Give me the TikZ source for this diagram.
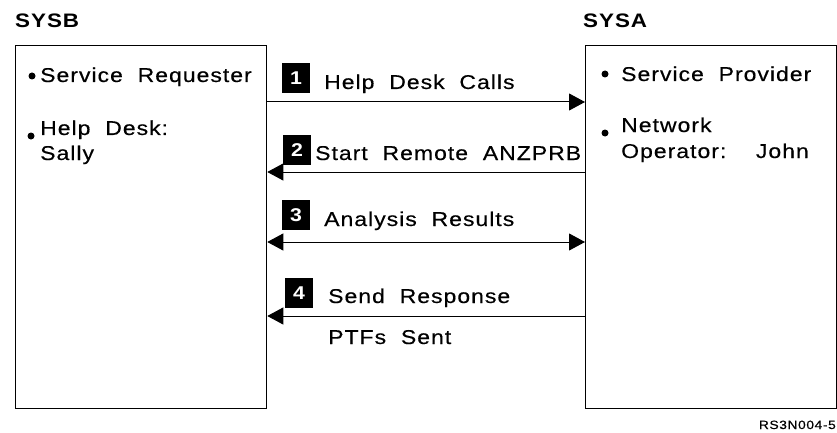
\documentclass[tikz,border=0pt]{standalone}
\usepackage{fontspec}
\setmainfont{Liberation Sans}[FakeStretch=1.15,LetterSpace=5,WordSpace=2,UprightFeatures={FakeBold=0.4}]
\usetikzlibrary{arrows.meta, positioning}

\begin{document}
\begin{tikzpicture}[x=1pt, y=-1pt, >={Triangle[length=16pt,width=17pt]},
        sysbox/.style={draw, line width=1.3pt, minimum width=251pt, minimum height=363pt, anchor=north west, inner sep=0pt},
        title/.style={anchor=base west, inner sep=0pt, font=\bfseries\fontsize{19.5}{20}\selectfont},
        txt/.style={anchor=base west, inner sep=0pt, font=\fontsize{20}{25}\selectfont},
        num/.style={fill=black, text=white, inner sep=0pt, minimum width=28pt, minimum height=30pt, font=\bfseries\fontsize{18.5}{19}\selectfont},
        dot/.style={circle, fill=black, inner sep=0pt, minimum size=7pt},
        msg/.style={line width=1pt}]
        \useasboundingbox (0,0) rectangle (837,433);

        \node[title] (tb) at (15,28) {SYSB};
        \node[title] (ta) at (583,28) {SYSA};
        \node[sysbox] (sysb) at (15,45) {};
        \node[sysbox] (sysa) at (585,45) {};

        % SYSB
        \node[dot] (db1) at (32,76) {};
        \node[txt] (req) at (40,82) {Service Requester};
        \node[dot] (db2) at (31,136) {};
        \node[txt] (hd) at (40,135) {Help Desk:};
        \node[txt, below=25pt of hd.base west, anchor=base west] (sally) {Sally};

        % SYSA
        \node[dot] (da1) at (605,74) {};
        \node[txt] (prov) at (621,81) {Service Provider};
        \node[dot] (da2) at (605,133) {};
        \node[txt] (net) at (621,132) {Network};
        \node[txt, below=26pt of net.base west, anchor=base west] (op) {Operator:\ \ John};

        % messages
        \node[num] (n1) at (296,78) {1};
        \node[txt] (m1) at (324,89) {Help Desk Calls};
        \node[num] (n2) at (297,150) {2};
        \node[txt] (m2) at (315,160) {Start Remote ANZPRB};
        \node[num] (n3) at (296,215) {3};
        \node[txt] (m3) at (324,226) {Analysis Results};
        \node[num] (n4) at (299,293) {4};
        \node[txt] (m4) at (328,303) {Send Response};
        \node[txt, below=41pt of m4.base west, anchor=base west] (m5) {PTFs Sent};

        \coordinate (r1) at (0,102);
        \coordinate (r2) at (0,172);
        \coordinate (r3) at (0,242);
        \coordinate (r4) at (0,316);

        \draw[msg, ->] (sysb.east |- r1) -- (sysa.west |- r1);
        \draw[msg, ->] (sysa.west |- r2) -- (sysb.east |- r2);
        \draw[msg, <->] (sysb.east |- r3) -- (sysa.west |- r3);
        \draw[msg, ->] (sysa.west |- r4) -- (sysb.east |- r4);

        \node[anchor=base east, inner sep=0pt, font=\fontsize{12}{12}\selectfont] (fig) at (836,429) {RS3N004-5};
\end{tikzpicture}
\end{document}
